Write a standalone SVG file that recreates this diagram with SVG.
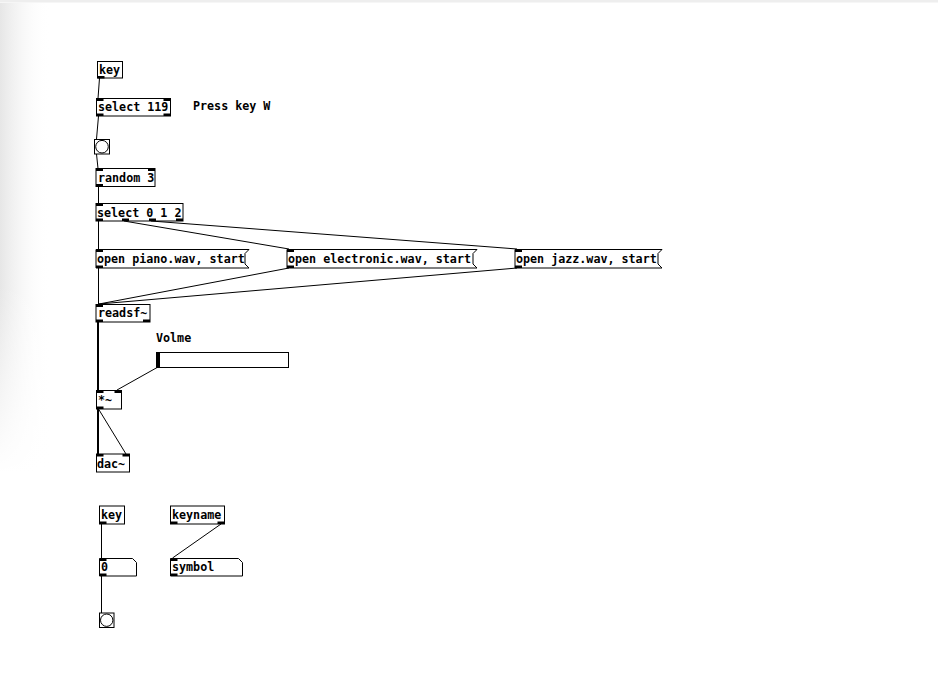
<svg xmlns="http://www.w3.org/2000/svg" width="938" height="697" viewBox="0 0 938 697">
  <defs>
    <linearGradient id="edgeShade" x1="0" y1="0" x2="1" y2="0">
      <stop offset="0" stop-color="#e6e6e6"/>
      <stop offset="1" stop-color="#ffffff" stop-opacity="0"/>
    </linearGradient>
    <linearGradient id="edgeFade" x1="0" y1="0" x2="0" y2="1">
      <stop offset="0" stop-color="#fff" stop-opacity="0"/>
      <stop offset="0.6" stop-color="#fff" stop-opacity="0"/>
      <stop offset="1" stop-color="#fff" stop-opacity="1"/>
    </linearGradient>
    <style>
      .box { fill: #fff; stroke: #000; stroke-width: 1; }
      .io { fill: #000; }
      .t { font-family: "DejaVu Sans Mono", "Liberation Mono", monospace; font-weight: bold; font-size: 11.7px; fill: #000; }
      .c { stroke: #000; stroke-width: 1; fill: none; }
      .sig { stroke: #000; stroke-width: 2; fill: none; }
    </style>
  </defs>

  <!-- window background -->
  <rect x="0" y="0" width="938" height="697" fill="#fff"/>
  <rect x="0" y="0" width="938" height="2.5" fill="#eeeeee"/>
  <rect x="0" y="3" width="50" height="470" fill="url(#edgeShade)"/>
  <rect x="0" y="3" width="50" height="470" fill="url(#edgeFade)"/>

  <!-- patch cords -->
  <g id="connections">
    <line class="c" x1="99.5" y1="78" x2="98" y2="98.5"/>
    <line class="c" x1="98.5" y1="116" x2="96.5" y2="139"/>
    <line class="c" x1="96.5" y1="154" x2="98" y2="168.5"/>
    <line class="c" x1="98.5" y1="186.5" x2="98.5" y2="203.5"/>
    <line class="c" x1="98.5" y1="221" x2="98.5" y2="249"/>
    <line class="c" x1="124" y1="221" x2="289" y2="249"/>
    <line class="c" x1="151" y1="221" x2="517" y2="249"/>
    <line class="c" x1="98.5" y1="268" x2="98.5" y2="304"/>
    <line class="c" x1="289" y1="268" x2="99" y2="304"/>
    <line class="c" x1="517" y1="268" x2="99" y2="304"/>
    <line class="sig" x1="98" y1="322" x2="98" y2="390"/>
    <line class="c" x1="158" y1="367" x2="117" y2="390"/>
    <line class="sig" x1="98" y1="409" x2="98" y2="454"/>
    <line class="c" x1="98.5" y1="409" x2="126" y2="454" stroke-width="1.5"/>
    <line class="c" x1="101.5" y1="524" x2="101.5" y2="558"/>
    <line class="c" x1="101.5" y1="576" x2="101.5" y2="613"/>
    <line class="c" x1="221" y1="524" x2="172.5" y2="558"/>
  </g>

  <!-- [key] -->
  <g id="key1">
    <rect class="box" x="97.5" y="61.5" width="25" height="16.5"/>
    <rect class="io" x="97.5" y="76" width="7" height="2.5"/>
    <text class="t" x="99" y="74">key</text>
  </g>

  <!-- [select 119] -->
  <g id="select119">
    <rect class="box" x="96.5" y="98.5" width="74" height="17.5"/>
    <rect class="io" x="96.5" y="98.5" width="7" height="2.5"/>
    <rect class="io" x="163.5" y="98.5" width="7" height="2.5"/>
    <rect class="io" x="96.5" y="113.5" width="7" height="2.5"/>
    <rect class="io" x="163.5" y="113.5" width="7" height="2.5"/>
    <text class="t" x="98" y="111">select 119</text>
  </g>

  <g id="comment-press">
    <text class="t" x="193" y="110">Press key W</text>
  </g>

  <!-- bang -->
  <g id="bang1">
    <rect class="box" x="94.5" y="139.5" width="15" height="14.5"/>
    <circle cx="102" cy="146.7" r="6.3" fill="#fff" stroke="#000" stroke-width="1"/>
  </g>

  <!-- [random 3] -->
  <g id="random3">
    <rect class="box" x="96" y="168.5" width="59" height="18"/>
    <rect class="io" x="96" y="168.5" width="7" height="2.5"/>
    <rect class="io" x="148" y="168.5" width="7" height="2.5"/>
    <rect class="io" x="96" y="184" width="7" height="2.5"/>
    <text class="t" x="98" y="182">random 3</text>
  </g>

  <!-- [select 0 1 2] -->
  <g id="select012">
    <rect class="box" x="96" y="203.5" width="87" height="17.5"/>
    <rect class="io" x="96" y="203.5" width="7" height="2.5"/>
    <rect class="io" x="96" y="218.5" width="7" height="2.5"/>
    <rect class="io" x="122" y="218.5" width="7" height="2.5"/>
    <rect class="io" x="149" y="218.5" width="7" height="2.5"/>
    <rect class="io" x="176" y="218.5" width="7" height="2.5"/>
    <text class="t" x="97" y="217">select 0 1 2</text>
  </g>

  <!-- message boxes -->
  <g id="msg-piano">
    <path class="box" d="M96,249.5 H249 L245,253.5 V264 L249,268 H96 Z"/>
    <rect class="io" x="96" y="249.5" width="7" height="2.5"/>
    <rect class="io" x="96" y="265.5" width="7" height="2.5"/>
    <text class="t" x="97" y="263">open piano.wav, start</text>
  </g>
  <g id="msg-electronic">
    <path class="box" d="M287,249.5 H477 L473,253.5 V264 L477,268 H287 Z"/>
    <rect class="io" x="287" y="249.5" width="7" height="2.5"/>
    <rect class="io" x="287" y="265.5" width="7" height="2.5"/>
    <text class="t" x="288" y="263">open electronic.wav, start</text>
  </g>
  <g id="msg-jazz">
    <path class="box" d="M515,249.5 H662 L658,253.5 V264 L662,268 H515 Z"/>
    <rect class="io" x="515" y="249.5" width="7" height="2.5"/>
    <rect class="io" x="515" y="265.5" width="7" height="2.5"/>
    <text class="t" x="516" y="263">open jazz.wav, start</text>
  </g>

  <!-- [readsf~] -->
  <g id="readsf">
    <rect class="box" x="96" y="304.5" width="54" height="17.5"/>
    <rect class="io" x="96" y="304.5" width="7" height="2.5"/>
    <rect class="io" x="96" y="319.5" width="7" height="2.5"/>
    <rect class="io" x="143" y="319.5" width="7" height="2.5"/>
    <text class="t" x="98" y="317">readsf~</text>
  </g>

  <!-- volume slider -->
  <g id="volume">
    <text class="t" x="156" y="342">Volme</text>
    <rect class="box" x="156.5" y="352.5" width="132" height="15"/>
    <rect class="io" x="157" y="353" width="3" height="14"/>
  </g>

  <!-- [*~] -->
  <g id="mul">
    <rect class="box" x="96.5" y="390.5" width="25" height="18.5"/>
    <rect class="io" x="96.5" y="390.5" width="7" height="2.5"/>
    <rect class="io" x="114.5" y="390.5" width="7" height="2.5"/>
    <rect class="io" x="96.5" y="406.5" width="7" height="2.5"/>
    <text class="t" x="98" y="404" font-size="9">*~</text>
  </g>

  <!-- [dac~] -->
  <g id="dac">
    <rect class="box" x="96.5" y="454" width="33" height="18"/>
    <rect class="io" x="96.5" y="454" width="7" height="2.5"/>
    <rect class="io" x="122.5" y="454" width="7" height="2.5"/>
    <text class="t" x="97" y="468">dac~</text>
  </g>

  <!-- lower section: key / keyname monitors -->
  <g id="key2">
    <rect class="box" x="99.5" y="506" width="25" height="18"/>
    <rect class="io" x="99.5" y="521.5" width="7" height="2.5"/>
    <text class="t" x="101" y="519">key</text>
  </g>
  <g id="keyname">
    <rect class="box" x="170.5" y="506" width="54" height="18"/>
    <rect class="io" x="170.5" y="521.5" width="7" height="2.5"/>
    <rect class="io" x="217.5" y="521.5" width="7" height="2.5"/>
    <text class="t" x="172" y="519">keyname</text>
  </g>
  <g id="number">
    <path class="box" d="M99.5,558.5 H132.5 L136.5,562.5 V576 H99.5 Z"/>
    <rect class="io" x="99.5" y="558.5" width="7" height="2.5"/>
    <rect class="io" x="99.5" y="573.5" width="7" height="2.5"/>
    <text class="t" x="101" y="571">0</text>
  </g>
  <g id="symbol">
    <path class="box" d="M170.5,558.5 H238.5 L242.5,562.5 V576 H170.5 Z"/>
    <rect class="io" x="170.5" y="558.5" width="7" height="2.5"/>
    <rect class="io" x="170.5" y="573.5" width="7" height="2.5"/>
    <text class="t" x="172" y="571">symbol</text>
  </g>
  <g id="bang2">
    <rect class="box" x="99.5" y="613" width="14.5" height="14.5"/>
    <circle cx="106.7" cy="620.2" r="6.2" fill="#fff" stroke="#000" stroke-width="1"/>
  </g>
</svg>
